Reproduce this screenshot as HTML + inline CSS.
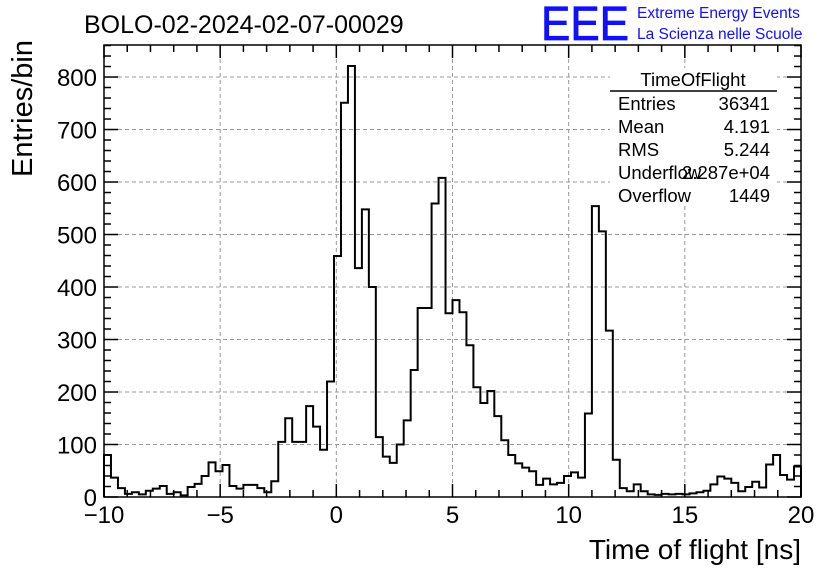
<!DOCTYPE html>
<html><head><meta charset="utf-8"><style>
body{margin:0;background:#fff;width:836px;height:572px;overflow:hidden}
text{font-family:"Liberation Sans",sans-serif}
</style></head><body>
<svg id="chart" width="836" height="572">
<text x="84" y="33" font-size="25">BOLO-02-2024-02-07-00029</text>
<text x="541" y="40" font-size="48" fill="#1010ff" stroke="#1010ff" stroke-width="0.8" textLength="88" lengthAdjust="spacingAndGlyphs">EEE</text>
<text x="637" y="18" font-size="15.5" fill="#1010ff">Extreme Energy Events</text>
<text x="637" y="39" font-size="15.5" fill="#1010ff">La Scienza nelle Scuole</text>
<g id="grid"></g><g id="axes"></g>
<path id="hist" fill="none" stroke="#000" stroke-width="2"></path>
<rect x="104" y="45" width="697" height="452" fill="none" stroke="#000" stroke-width="1.5"/>
<text transform="translate(32,40) rotate(-90)" text-anchor="end" font-size="29">Entries/bin</text>
<text x="801" y="559" text-anchor="end" font-size="28">Time of flight [ns]</text>
<g font-size="18.5">
<rect x="610" y="68" width="167" height="138" fill="#fff"/>
<text x="693" y="86" text-anchor="middle">TimeOfFlight</text>
<line x1="610" y1="91" x2="777" y2="91" stroke="#000" stroke-width="1.5"/>
<text x="618" y="110">Entries</text><text x="770" y="110" text-anchor="end">36341</text>
<text x="618" y="133">Mean</text><text x="770" y="133" text-anchor="end">4.191</text>
<text x="618" y="156">RMS</text><text x="770" y="156" text-anchor="end">5.244</text>
<text x="618" y="179">Underflow</text><text x="770" y="179" text-anchor="end">2.287e+04</text>
<text x="618" y="202">Overflow</text><text x="770" y="202" text-anchor="end">1449</text>
</g>
</svg>
<script>
const xMin=-10, xMax=20, nBins=100;
const counts=[80,37,17,6,9,5,12,16,21,6,
9,3,19,25,40,66,49,61,21,16,
23,23,17,9,30,105,150,105,105,173,
134,90,220,459,751,821,436,548,400,114,
77,65,100,146,242,360,360,559,608,350,
375,352,289,209,179,202,154,108,80,64,
56,49,23,35,24,27,40,47,37,159,
554,506,317,71,17,11,24,11,5,4,
6,5,6,5,7,9,12,24,39,35,
27,11,19,29,18,62,80,42,33,58];
const xTicks=[-10,-5,0,5,10,15,20];
const yTicks=[0,100,200,300,400,500,600,700,800];
const yMax=861;
const L=104,R=801,T=45,B=497;
const sx=v=>L+(v-xMin)/(xMax-xMin)*(R-L);
const sy=v=>B-v/yMax*(B-T);
const NS='http://www.w3.org/2000/svg';
function mk(tag,attrs,parent){const e=document.createElementNS(NS,tag);for(const k in attrs)e.setAttribute(k,attrs[k]);document.getElementById(parent).appendChild(e);return e;}
const bw=(xMax-xMin)/nBins;
let d='M'+sx(xMin)+','+sy(0);
counts.forEach((c,i)=>{d+=' L'+sx(xMin+i*bw)+','+sy(c)+' L'+sx(xMin+(i+1)*bw)+','+sy(c);});
d+=' L'+sx(xMax)+','+sy(0);
document.getElementById('hist').setAttribute('d',d);
xTicks.forEach(t=>{
  if(t>xMin&&t<xMax){const g=mk('line',{x1:sx(t),x2:sx(t),y1:T,y2:B,stroke:'#999','stroke-dasharray':'4,3'},'grid');
  
  }
  const tl=mk('text',{x:sx(t),y:523,'text-anchor':'middle','font-size':24},'axes');
  tl.textContent=(t<0?'\u2212':'')+Math.abs(t);
  
  
});
yTicks.forEach(t=>{
  if(t>0){const g=mk('line',{x1:L,x2:R,y1:sy(t),y2:sy(t),stroke:'#999','stroke-dasharray':'4,3'},'grid');
  
  }
  const tl=mk('text',{x:97,y:sy(t)+9,'text-anchor':'end','font-size':24},'axes');
  tl.textContent=t;
  
  
});
for(let v=xMin;v<=xMax;v+=1){const len=(v%5===0)?13:7;
  mk('line',{x1:sx(v),x2:sx(v),y1:B,y2:B-len,stroke:'#000','stroke-width':1.5},'axes');
  mk('line',{x1:sx(v),x2:sx(v),y1:T,y2:T+len,stroke:'#000','stroke-width':1.5},'axes');}
for(let v=0;v<=yMax;v+=20){const len=(v%100===0)?14:7;
  mk('line',{x1:L,x2:L+len,y1:sy(v),y2:sy(v),stroke:'#000','stroke-width':1.5},'axes');
  mk('line',{x1:R,x2:R-len,y1:sy(v),y2:sy(v),stroke:'#000','stroke-width':1.5},'axes');}
</script>
</body></html>
